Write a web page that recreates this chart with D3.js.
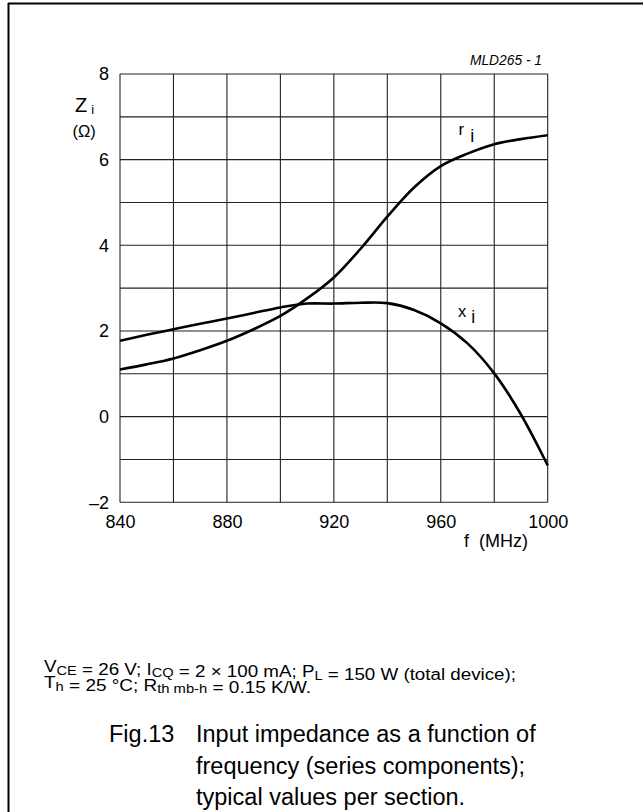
<!DOCTYPE html>
<html>
<head>
<meta charset="utf-8">
<script src="https://cdn.jsdelivr.net/npm/d3@7"></script>
<style>
  html, body { margin: 0; padding: 0; background: #fff; }
  svg { display: block; }
  text { font-family: Arial, "Liberation Sans", Helvetica, sans-serif; fill: #000; }
</style>
</head>
<body>
<svg id="chart" width="643" height="812"></svg>
<script>
// ---- data ----
const freqs = [840, 850, 860, 870, 880, 890, 900, 910, 920, 930, 940, 950, 960, 970, 980, 990, 1000];
const riValues = [1.10, 1.22, 1.36, 1.55, 1.77, 2.04, 2.35, 2.76, 3.25, 3.92, 4.67, 5.35, 5.85, 6.14, 6.36, 6.48, 6.57];
const xiValues = [1.77, 1.91, 2.04, 2.17, 2.29, 2.42, 2.55, 2.64, 2.64, 2.66, 2.65, 2.49, 2.18, 1.71, 1.01, 0.05, -1.14];
const xTicks = [840, 880, 920, 960, 1000];
const xGrid = [840, 860, 880, 900, 920, 940, 960, 980, 1000];
const yTicks = [-2, 0, 2, 4, 6, 8];
const yGrid = [-2, -1, 0, 1, 2, 3, 4, 5, 6, 7, 8];

(function () {
const svg = d3.select("#chart");

// frame (top + left only)
svg.append("line").attr("x1", 8).attr("y1", 3.5).attr("x2", 643).attr("y2", 3.5)
  .attr("stroke", "#000").attr("stroke-width", 2);
svg.append("line").attr("x1", 8.5).attr("y1", 3).attr("x2", 8.5).attr("y2", 812)
  .attr("stroke", "#000").attr("stroke-width", 2);

const pL = 120, pR = 547.7, pT = 74, pB = 502.3;
const x = d3.scaleLinear().domain([840, 1000]).range([pL, pR]);
const y = d3.scaleLinear().domain([-2, 8]).range([pB, pT]);

const g = svg.append("g");

// grid
g.selectAll("line.vg").data(xGrid).join("line").attr("class", "vg")
  .attr("x1", d => x(d)).attr("x2", d => x(d))
  .attr("y1", pT).attr("y2", pB)
  .attr("stroke", "#222").attr("stroke-width", 1.1);
g.selectAll("line.hg").data(yGrid).join("line").attr("class", "hg")
  .attr("y1", d => y(d)).attr("y2", d => y(d))
  .attr("x1", pL).attr("x2", pR)
  .attr("stroke", "#222").attr("stroke-width", 1.1);

// axes labels via d3 axes (no domain/ticks lines)
const xAxis = d3.axisBottom(x).tickValues(xTicks).tickSize(0).tickPadding(0).tickFormat(d3.format("d"));
const xa = svg.append("g").attr("transform", `translate(0,${pB})`).call(xAxis);
xa.select(".domain").remove();
xa.selectAll("text").attr("font-size", 18).attr("font-family", "Arial, 'Liberation Sans', sans-serif")
  .attr("dy", null).attr("y", 26).attr("fill", "#000");

const yAxis = d3.axisLeft(y).tickValues(yTicks).tickSize(0).tickPadding(11)
  .tickFormat(d => d < 0 ? "\u2013" + Math.abs(d) : String(d));
const ya = svg.append("g").attr("transform", `translate(${pL},0)`).call(yAxis);
ya.select(".domain").remove();
ya.selectAll("text").attr("font-size", 18).attr("font-family", "Arial, 'Liberation Sans', sans-serif").attr("fill", "#000");

// curves
const line = d3.line().x(d => x(d[0])).y(d => y(d[1])).curve(d3.curveCatmullRom.alpha(0.5));
const riData = freqs.map((f, i) => [f, riValues[i]]);
const xiData = freqs.map((f, i) => [f, xiValues[i]]);
g.append("path").datum(riData).attr("d", line).attr("fill", "none")
  .attr("stroke", "#000").attr("stroke-width", 2.6);
g.append("path").datum(xiData).attr("d", line).attr("fill", "none")
  .attr("stroke", "#000").attr("stroke-width", 2.6);

// labels
function subLabel(xp, yp, main, sub, size, subSize, subDx, subDy) {
  const t = svg.append("text").attr("x", xp).attr("y", yp).attr("font-size", size);
  t.append("tspan").text(main);
  t.append("tspan").attr("font-size", subSize).attr("dx", subDx).attr("dy", subDy).text(sub);
  return t;
}
subLabel(75, 112, "Z", "i", 20, 13, 4, 2);
svg.append("text").attr("x", 72.5).attr("y", 137).attr("font-size", 16.5).text("(\u03A9)");
subLabel(458.5, 135, "r", "i", 17, 18, 6, 7);
subLabel(458, 317, "x", "i", 16.5, 17.5, 5, 6);

svg.append("text").attr("x", 528).attr("y", 547).attr("text-anchor", "end")
  .attr("font-size", 18).attr("xml:space", "preserve").text("f  (MHz)");

svg.append("text").attr("x", 542).attr("y", 65).attr("text-anchor", "end")
  .attr("font-size", 13.8).attr("font-style", "italic").text("MLD265 - 1");

// footnote
function richLine(xp, yp, parts, size, len) {
  const t = svg.append("text").attr("x", xp).attr("y", yp).attr("font-size", size)
    .attr("xml:space", "preserve")
    .attr("textLength", len).attr("lengthAdjust", "spacingAndGlyphs");
  parts.forEach(p => {
    if (p.sub) {
      t.append("tspan").attr("font-size", size * 0.78).attr("dy", 2.5).text(p.sub);
      t.append("tspan").attr("dy", -2.5).text("");
    } else {
      t.append("tspan").text(p.t);
    }
  });
  return t;
}
richLine(44, 672, [{t: "V"}, {sub: "CE"}, {t: " = 26 V; I"}, {sub: "CQ"}, {t: " = 2 \u00D7 100 mA; P"}, {sub: "L"}, {t: " = 150 W (total device);"}], 16, 472);
richLine(44, 688, [{t: "T"}, {sub: "h"}, {t: " = 25 \u00B0C; R"}, {sub: "th mb-h"}, {t: " = 0.15 K/W."}], 16, 267);

// caption
const cap = [["Fig.13", "Input impedance as a function of"], ["", "frequency (series components);"], ["", "typical values per section."]];
cap.forEach((c, i) => {
  const yy = 742 + i * 31.5;
  if (c[0]) svg.append("text").attr("x", 109).attr("y", yy).attr("font-size", 23.5).text(c[0]);
  svg.append("text").attr("x", 196).attr("y", yy).attr("font-size", 23.5).text(c[1]);
});
})();
</script>
</body>
</html>
